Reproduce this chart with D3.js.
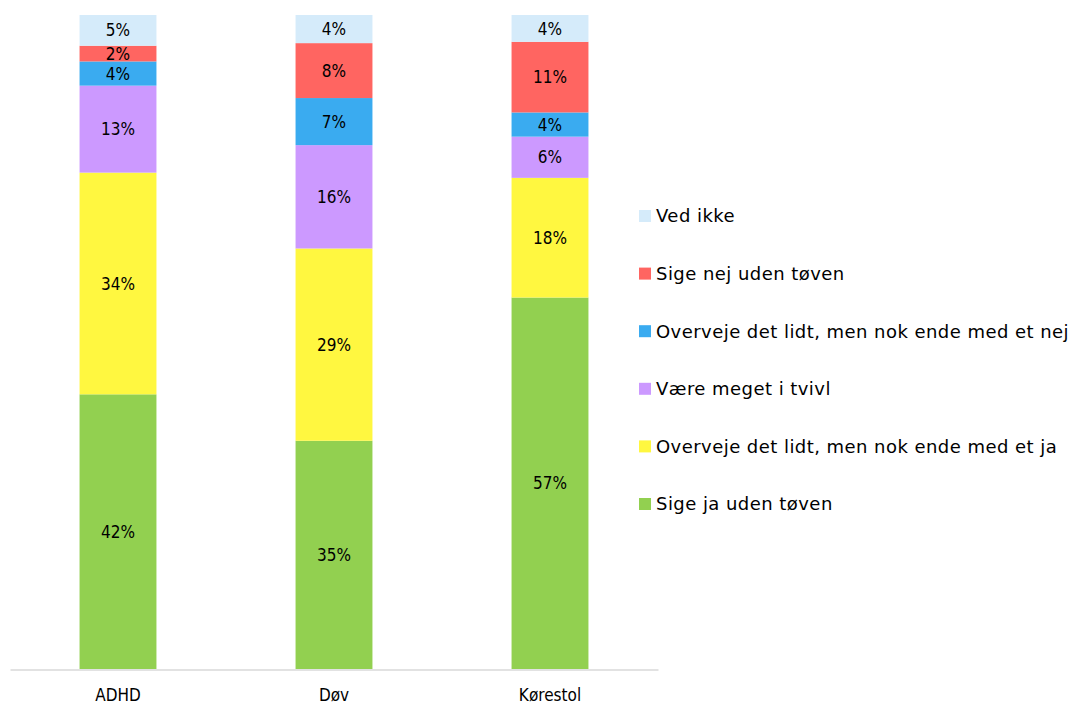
<!DOCTYPE html>
<html>
<head>
<meta charset="utf-8">
<script src="https://cdn.jsdelivr.net/npm/d3@7"></script>
<style>
  body { margin: 0; background: #fff; }
  text { font-family: "DejaVu Sans Condensed", "DejaVu Sans", sans-serif; fill: #000; }
  .legend text { font-family: "DejaVu Sans", sans-serif; }
</style>
</head>
<body>
<div id="chart"></div>
<script>
// categories (x axis)
var categories = ["ADHD", "Døv", "Kørestol"];

// series, bottom to top of each stack
var seriesNames = [
	"Sige ja uden tøven",
	"Overveje det lidt, men nok ende med et ja",
	"Være meget i tvivl",
	"Overveje det lidt, men nok ende med et nej",
	"Sige nej uden tøven",
	"Ved ikke"
];
var seriesColors = ["#92D050", "#FFF740", "#CC99FF", "#3AABF0", "#FF6561", "#D5EBFA"];

// percentages per category
var jaUdenToeven   = [42.0, 34.9, 56.8];
var overvejeJa     = [33.9, 29.4, 18.3];
var tvivl          = [13.3, 15.8, 6.3];
var overvejeNej    = [3.7, 7.2, 3.7];
var nejUdenToeven  = [2.4, 8.4, 10.8];
var vedIkke        = [4.7, 4.3, 4.1];

var seriesValues = [jaUdenToeven, overvejeJa, tvivl, overvejeNej, nejUdenToeven, vedIkke];

// legend order, top to bottom
var legendOrder = [5, 4, 3, 2, 1, 0];

var w = 1076, h = 704;
var margin = {top: 15, bottom: 35, left: 10, plotRight: 658};

var svg = d3.select("#chart").append("svg")
	.attr("width", w)
	.attr("height", h);

var x = d3.scaleBand()
	.domain(categories)
	.range([margin.left, margin.plotRight])
	.paddingInner(0.644)
	.paddingOuter(0.322);

var y = d3.scaleLinear()
	.domain([0, 100])
	.range([h - margin.bottom, margin.top]);

// build rows for d3.stack
var rows = categories.map(function(c, i) {
	var r = {cat: c};
	seriesNames.forEach(function(s, j) { r[s] = seriesValues[j][i]; });
	return r;
});

var stacked = d3.stack().keys(seriesNames)(rows);

var layers = svg.selectAll("g.layer")
	.data(stacked)
	.enter().append("g")
	.attr("class", "layer")
	.attr("fill", function(d, i) { return seriesColors[i]; });

layers.selectAll("rect")
	.data(function(d) { return d; })
	.enter().append("rect")
	.attr("x", function(d) { return x(d.data.cat); })
	.attr("width", x.bandwidth())
	.attr("y", function(d) { return y(d[1]); })
	.attr("height", function(d) { return y(d[0]) - y(d[1]); });

// value labels in the middle of each segment
layers.selectAll("text")
	.data(function(d) { return d; })
	.enter().append("text")
	.attr("x", function(d) { return x(d.data.cat) + x.bandwidth() / 2; })
	.attr("y", function(d) { return (y(d[0]) + y(d[1])) / 2; })
	.attr("text-anchor", "middle")
	.attr("dy", "0.36em")
	.style("font-size", "17px")
	.text(function(d) { return Math.round(d[1] - d[0]) + "%"; });

// x axis
var xAxis = d3.axisBottom(x).tickSize(0).tickPadding(19);
var gx = svg.append("g")
	.attr("transform", "translate(0," + (y(0) + 0.5) + ")")
	.call(xAxis);
gx.select(".domain").attr("stroke", "#D9D9D9").attr("stroke-width", 1.5);
gx.selectAll("text")
	.style("font-family", "\"DejaVu Sans Condensed\", \"DejaVu Sans\", sans-serif")
	.style("font-size", "17px")
	.attr("fill", "#000");

// legend
var legend = svg.append("g").attr("class", "legend").attr("transform", "translate(639,0)");
var items = legend.selectAll("g")
	.data(legendOrder)
	.enter().append("g")
	.attr("transform", function(d, i) { return "translate(0," + (216 + i * 57.6) + ")"; });

items.append("rect")
	.attr("x", 0)
	.attr("y", -6)
	.attr("width", 12)
	.attr("height", 12)
	.attr("fill", function(d) { return seriesColors[d]; });

items.append("text")
	.attr("x", 17)
	.attr("dy", "0.36em")
	.style("font-size", "18px")
	.style("letter-spacing", "0.45px")
	.text(function(d) { return seriesNames[d]; });
</script>
</body>
</html>
